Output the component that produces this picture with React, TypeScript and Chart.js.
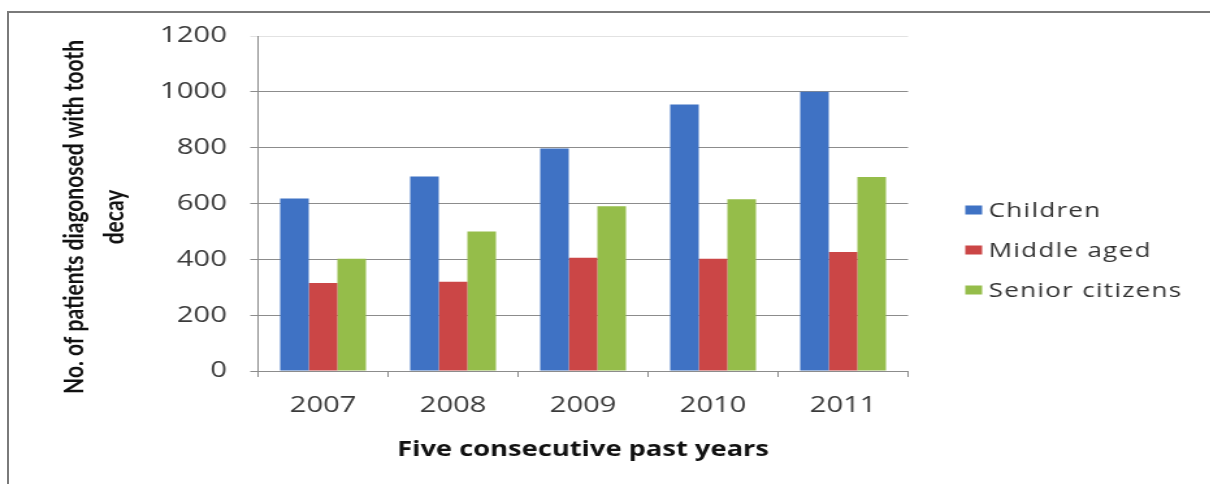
import React, { useEffect, useRef } from "react";
import { Chart, registerables } from "chart.js";

Chart.register(...registerables);

// ---- data ----
const categories = ["2007", "2008", "2009", "2010", "2011"];
const seriesNames = ["Children", "Middle aged", "Senior citizens"];
const children = [618, 697, 797, 955, 1000];
const middleAged = [315, 320, 406, 402, 426];
const seniorCitizens = [402, 500, 590, 615, 695];
const seriesColors = ["#3f72c4", "#cb4646", "#95bd4a"];
const yTitleLines = ["No. of patients diagonosed with tooth", "decay"];
const xTitle = "Five consecutive past years";
const yMin = 0;
const yMax = 1200;
const yStep = 200;

// ---- layout (logical canvas, stretched horizontally by SX) ----
const SX = 1.3;
const W = 931;
const H = 484;
const FONT = "Lato, 'Open Sans', sans-serif";
const WIDE = "'Open Sans', Lato, sans-serif";

const yTitlePlugin = {
  id: "yTitleCustom",
  afterDraw(chart: any) {
    const ctx = chart.ctx;
    ctx.save();
    ctx.fillStyle = "#111";
    ctx.font = `bold 21px ${FONT}`;
    ctx.textAlign = "center";
    ctx.textBaseline = "middle";
    yTitleLines.forEach((line, i) => {
      ctx.save();
      ctx.translate(57 + i * 31, 217);
      ctx.rotate(-Math.PI / 2);
      ctx.fillText(line, 0, 0);
      ctx.restore();
    });
    ctx.restore();
  },
};

const legendPlugin = {
  id: "legendCustom",
  afterDraw(chart: any) {
    const ctx = chart.ctx;
    ctx.save();
    ctx.font = `20px ${WIDE}`;
    try {
      (ctx as any).letterSpacing = "1px";
    } catch (e) {}
    ctx.textAlign = "left";
    ctx.textBaseline = "middle";
    const x0 = chart.chartArea.right + 44;
    const yc = [210, 250, 290];
    chart.data.datasets.forEach((ds: any, i: number) => {
      ctx.fillStyle = ds.backgroundColor;
      ctx.fillRect(x0, yc[i] - 4.5, 13, 9);
      ctx.fillStyle = "#333";
      ctx.fillText(ds.label, x0 + 18, yc[i] + 1);
    });
    ctx.restore();
  },
};

export default function App() {
  const ref = useRef<HTMLCanvasElement | null>(null);

  useEffect(() => {
    document.body.style.margin = "0";
    const canvas = ref.current!;
    const seriesValues = [children, middleAged, seniorCitizens];
    const chart = new Chart(canvas, {
      type: "bar",
      data: {
        labels: categories,
        datasets: seriesNames.map((name, i) => ({
          label: name,
          data: seriesValues[i],
          backgroundColor: seriesColors[i],
          borderWidth: 0,
          barPercentage: 1,
          categoryPercentage: 0.66,
        })),
      },
      options: {
        responsive: false,
        animation: false,
        devicePixelRatio: 1,
        layout: { padding: { left: 0, right: 232.5, top: 36, bottom: 0 } },
        plugins: {
          legend: { display: false },
          tooltip: { enabled: false },
          title: { display: false },
        },
        scales: {
          x: {
            grid: {
              display: true,
              drawOnChartArea: false,
              drawTicks: true,
              tickLength: 6,
              color: "#8c8c8c",
              offset: true,
            },
            border: { display: true, color: "#8c8c8c", width: 1 },
            ticks: {
              color: "#3a3a3a",
              font: { family: WIDE, size: 22.5 },
              padding: 15,
            },
            title: {
              display: true,
              text: xTitle,
              color: "#111",
              font: { family: WIDE, size: 21, weight: "bold" },
              padding: { top: 0, bottom: 21 },
            },
            afterFit: (scale: any) => {
              scale.height = 113;
            },
          },
          y: {
            min: yMin,
            max: yMax,
            ticks: {
              stepSize: yStep,
              color: "#3a3a3a",
              font: { family: WIDE, size: 22.5 },
              padding: 18,
              callback: (v: any) => String(v),
            },
            grid: {
              color: (c: any) => (c.tick && c.tick.value === yMax ? "#e2e2e2" : "#8c8c8c"),
              tickLength: 6,
              drawTicks: true,
            },
            border: { display: true, color: "#8c8c8c", width: 1 },
            afterFit: (scale: any) => {
              scale.width = 198.5;
            },
          },
        },
      },
      plugins: [yTitlePlugin, legendPlugin],
    });
    return () => chart.destroy();
  }, []);

  return (
    <div style={{ position: "absolute", left: 0, top: 0, width: 1210, height: 484, overflow: "hidden", background: "#fff" }}>
      <div
        style={{
          position: "absolute",
          left: 0,
          top: 0,
          width: W,
          height: H,
          transform: `scaleX(${SX})`,
          transformOrigin: "0 0",
        }}
      >
        <canvas ref={ref} width={W} height={H} style={{ display: "block" }} />
      </div>
      <div
        style={{
          position: "absolute",
          left: 7,
          top: 11,
          width: 1210,
          height: 484,
          borderTop: "2px solid #7a7a7a",
          borderLeft: "2px solid #7a7a7a",
          pointerEvents: "none",
        }}
      />
    </div>
  );
}
